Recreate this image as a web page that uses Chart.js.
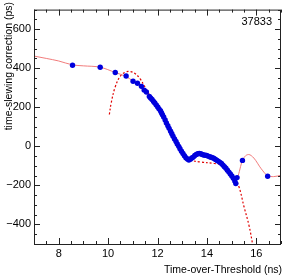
<!DOCTYPE html>
<html>
<head>
<meta charset="utf-8">
<script src="https://cdn.jsdelivr.net/npm/chart.js@4"></script>
<style>
  html, body { margin: 0; padding: 0; background: #fff; }
  #wrap { width: 287px; height: 278px; }
</style>
</head>
<body>
<div id="wrap"><canvas id="grafico" width="287" height="278"></canvas></div>
<script>
// ── Dados ──────────────────────────────────────────────────────────────────

const pontosX = [8.56, 9.68, 10.29, 10.73, 11.01, 11.19, 11.35, 11.46, 11.55, 11.67,
  11.72, 11.78, 11.84, 11.89, 11.95, 12.01, 12.06, 12.12, 12.16, 12.2,
  12.25, 12.31, 12.36, 12.42, 12.47, 12.53, 12.58, 12.63, 12.69, 12.75,
  12.8, 12.86, 12.91, 12.97, 13.03, 13.09, 13.15, 13.21, 13.27, 13.33,
  13.39, 13.45, 13.51, 13.57, 13.63, 13.69, 13.75, 13.81, 13.87, 13.93,
  13.99, 14.05, 14.11, 14.17, 14.23, 14.29, 14.35, 14.41, 14.47, 14.53,
  14.59, 14.65, 14.71, 14.77, 14.83, 14.89, 14.95, 15.01, 15.07, 15.13,
  15.17, 15.22, 15.44, 16.46]
const pontosY = [415, 405, 378, 360, 333, 323, 307, 288, 278, 255,
  248, 240, 230, 222, 212, 202, 192, 182, 172, 162,
  150, 135, 120, 105, 92, 77, 65, 52, 38, 25,
  12, 0, -12, -25, -37, -48, -58, -65, -70, -66,
  -60, -55, -47, -42, -38, -37, -38, -42, -44, -46,
  -47, -50, -53, -56, -58, -62, -67, -72, -77, -82,
  -88, -96, -104, -112, -122, -132, -142, -152, -163, -178,
  -190, -160, -72, -153]

// curva contínua (spline)
const splineX = [7, 7.5, 8, 8.56, 9, 9.68, 10.29, 10.73, 11.0, 11.35, 11.67, 12.0,
  12.5, 13.0, 13.27, 13.45, 13.7, 14.0, 14.4, 14.8, 15.1, 15.24, 15.44, 15.69,
  15.9, 16.2, 16.46, 16.7, 17]
const splineY = [462, 450, 437, 417, 412, 405, 378, 357, 335, 305, 255, 202,
  85, -30, -68, -55, -37, -47, -70, -118, -170, -158, -72, -42,
  -60, -115, -150, -155, -148]

// ajuste polinomial (pontilhado)
const ajusteX = [10.05, 10.13, 10.29, 10.5, 10.7, 10.9, 11.1, 11.3, 11.5, 11.75,
  12.0, 12.5, 13.0, 13.3, 13.75, 14.3, 14.7, 15.1, 15.3, 15.5, 15.71, 15.85]
const ajusteY = [163, 225, 305, 360, 380, 383, 372, 345, 302, 250,
  200, 85, -30, -67, -80, -88, -100, -158, -208, -308, -408, -500]

const xTicks = [8, 10, 12, 14, 16]
const yTicks = [-400, -200, 0, 200, 400, 600]
const rotulo = '37833'

// ── Helpers ─────────────────────────────────────────────────────────────────

const pares = (xs, ys) => xs.map((x, i) => ({ x, y: ys[i] }))
const FONTE = "'Liberation Sans', Arial, sans-serif"

// moldura, ticks internos nos quatro lados e textos no estilo ROOT
const moldura = {
  id: 'moldura',
  afterDraw(chart) {
    const { ctx, chartArea: a, scales } = chart
    const sx = scales.x
    const sy = scales.y
    ctx.save()
    ctx.strokeStyle = '#222'
    ctx.lineWidth = 1
    ctx.strokeRect(a.left + 0.5, a.top + 0.5, a.right - a.left - 1, a.bottom - a.top)

    ctx.beginPath()
    for (let v = 7; v <= 17.001; v += 0.5) {
      const px = Math.round(sx.getPixelForValue(v)) + 0.5
      const len = Math.abs(v % 2) < 1e-6 ? 6 : 3
      ctx.moveTo(px, a.bottom)
      ctx.lineTo(px, a.bottom - len)
      ctx.moveTo(px, a.top)
      ctx.lineTo(px, a.top + len)
    }
    for (let v = -500; v <= 700; v += 50) {
      const py = Math.round(sy.getPixelForValue(v)) + 0.5
      const len = v % 200 === 0 ? 6 : 3
      ctx.moveTo(a.left, py)
      ctx.lineTo(a.left + len, py)
      ctx.moveTo(a.right, py)
      ctx.lineTo(a.right - len, py)
    }
    ctx.stroke()

    ctx.fillStyle = '#000'
    ctx.font = `11px ${FONTE}`
    ctx.textAlign = 'right'
    ctx.textBaseline = 'middle'
    ctx.fillText(rotulo, a.right - 9, a.top + 12)

    ctx.font = `10.5px ${FONTE}`
    ctx.fillText('Time-over-Threshold (ns)', a.right + 1, 270)

    ctx.translate(9, 2)
    ctx.rotate(-Math.PI / 2)
    ctx.fillText('time-slewing correction (ps)', 0, 0)
    ctx.restore()
  },
}

// ── Gráfico ────────────────────────────────────────────────────────────────

new Chart(document.getElementById('grafico'), {
  type: 'scatter',
  data: {
    datasets: [
      {
        label: 'pontos',
        data: pares(pontosX, pontosY),
        backgroundColor: '#0000dd',
        borderColor: '#0000dd',
        pointRadius: 2.7,
        pointBorderWidth: 0,
        showLine: false,
      },
      {
        label: 'spline',
        data: pares(splineX, splineY),
        borderColor: 'rgba(240, 110, 110, 0.9)',
        borderWidth: 1,
        showLine: true,
        cubicInterpolationMode: 'monotone',
        pointRadius: 0,
      },
      {
        label: 'ajuste',
        data: pares(ajusteX, ajusteY),
        borderColor: '#e00000',
        borderWidth: 1.2,
        borderDash: [2, 2],
        showLine: true,
        tension: 0.4,
        pointRadius: 0,
      },
    ],
  },
  options: {
    responsive: false,
    animation: false,
    events: [],
    layout: { padding: { top: 5, right: 6, left: 0, bottom: 0 } },
    plugins: {
      legend: { display: false },
      tooltip: { enabled: false },
    },
    scales: {
      x: {
        type: 'linear',
        min: 7,
        max: 17,
        afterFit: (s) => { s.height = 34 },
        afterBuildTicks: (s) => { s.ticks = xTicks.map((value) => ({ value })) },
        grid: { display: false, drawTicks: false },
        border: { display: false },
        ticks: {
          autoSkip: false,
          maxRotation: 0,
          padding: 3,
          color: '#000',
          font: { family: FONTE, size: 11 },
        },
      },
      y: {
        min: -500,
        max: 700,
        afterFit: (s) => { s.width = 34 },
        afterBuildTicks: (s) => { s.ticks = yTicks.map((value) => ({ value })) },
        grid: { display: false, drawTicks: false },
        border: { display: false },
        ticks: {
          autoSkip: false,
          padding: 3,
          color: '#000',
          font: { family: FONTE, size: 11 },
          callback: (v) => String(v).replace('-', '\u2212'),
        },
      },
    },
  },
  plugins: [moldura],
})
</script>
</body>
</html>
